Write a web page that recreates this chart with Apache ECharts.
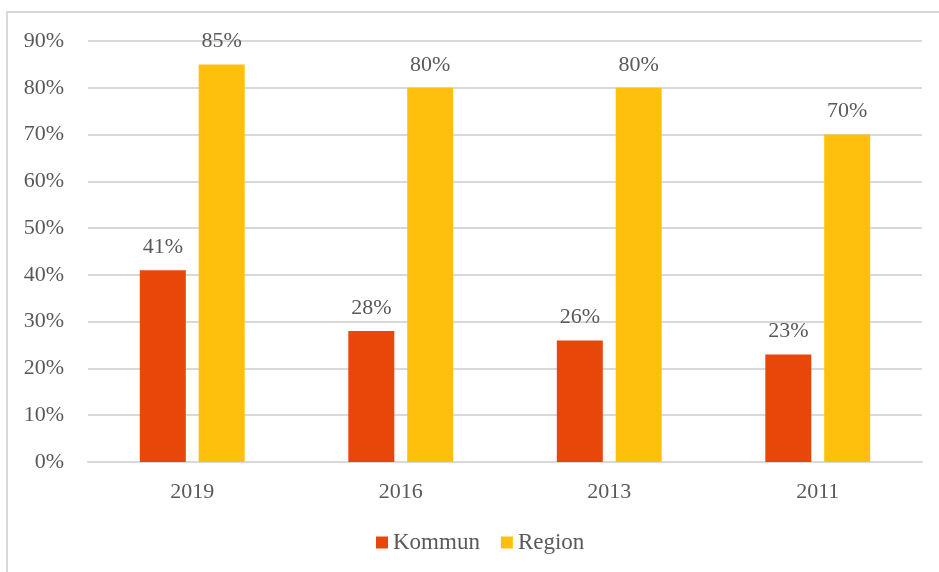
<!DOCTYPE html>
<html>
<head>
    <meta charset="UTF-8">
    <title>Kommun / Region</title>
    <style>
        html, body { margin: 0; padding: 0; background: #fff; }
        #frame { position: absolute; left: 6px; top: 11px; width: 940px; height: 570px; border: 2px solid #d9d9d9; box-sizing: border-box; }
    </style>
</head>
<body>
    <div id="frame"></div>
    <div id="container" style="position: absolute; left: 0; top: 0; width: 939px; height: 572px;"></div>
    <script src="https://cdn.jsdelivr.net/npm/echarts@6/dist/echarts.min.js"></script>
    <script type="text/javascript">
        var years = ['2019', '2016', '2013', '2011'];
        var kommun = [41, 28, 26, 23];
        var region = [85, 80, 80, 70];

        var font = '"Liberation Serif", "Times New Roman", serif';
        var textColor = '#595959';

        var myChart = echarts.init(document.getElementById('container'));
        var option = {
            textStyle: { fontFamily: font },
            grid: { left: 88, right: 17, top: 41, bottom: 110, containLabel: false },
            legend: {
                data: ['Kommun', 'Region'],
                bottom: 13,
                left: 371,
                icon: 'rect',
                itemWidth: 12,
                itemHeight: 12,
                itemGap: 21,
                textStyle: { color: textColor, fontSize: 23, fontFamily: font }
            },
            xAxis: {
                type: 'category',
                data: years,
                axisLine: { lineStyle: { color: '#d9d9d9', width: 2 } },
                axisTick: { show: false },
                axisLabel: { color: textColor, fontSize: 22, fontFamily: font, margin: 19 }
            },
            yAxis: {
                type: 'value',
                min: 0,
                max: 90,
                interval: 10,
                axisLine: { show: false },
                axisTick: { show: false },
                splitLine: { lineStyle: { color: '#d9d9d9', width: 2 } },
                axisLabel: {
                    color: textColor, fontSize: 22, fontFamily: font, margin: 24,
                    formatter: function (v) { return v + '%'; }
                }
            },
            series: [{
                name: 'Kommun',
                type: 'bar',
                data: kommun,
                barWidth: 46,
                barGap: '28%',
                itemStyle: { color: '#E8470A' },
                label: {
                    show: true, position: 'top', distance: 12,
                    color: textColor, fontSize: 22, fontFamily: font,
                    formatter: '{c}%'
                }
            }, {
                name: 'Region',
                type: 'bar',
                data: region,
                barWidth: 46,
                itemStyle: { color: '#FFC00D' },
                label: {
                    show: true, position: 'top', distance: 12,
                    color: textColor, fontSize: 22, fontFamily: font,
                    formatter: '{c}%'
                }
            }]
        };
        myChart.setOption(option);
    </script>
</body>
</html>
